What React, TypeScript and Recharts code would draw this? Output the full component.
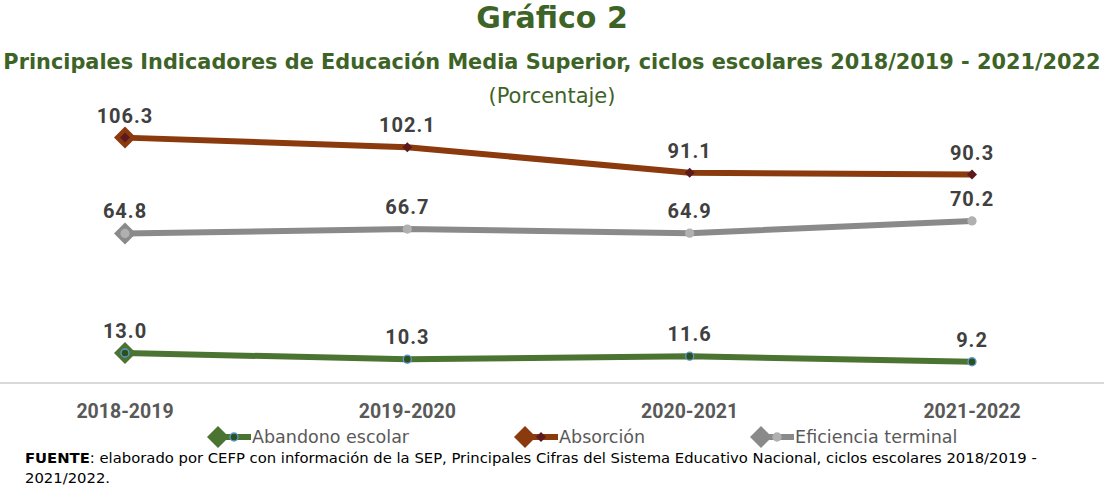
import { LineChart, Line, XAxis, YAxis, LabelList, Legend } from "recharts";

const ciclos = ["2018-2019", "2019-2020", "2020-2021", "2021-2022"];
const abandono = [13.0, 10.3, 11.6, 9.2];
const absorcion = [106.3, 102.1, 91.1, 90.3];
const eficiencia = [64.8, 66.7, 64.9, 70.2];

const series = [
  { key: "abandono", name: "Abandono escolar", color: "#4b7331", dot: "circle", inner: "#2f4f1e", ring: "#5b9bd5" },
  { key: "absorcion", name: "Absorción", color: "#8b3a0e", dot: "diamond", inner: "#5a1a1e", ring: "#5a1a1e" },
  { key: "eficiencia", name: "Eficiencia terminal", color: "#8a8a8a", dot: "circle", inner: "#b0b0b0", ring: "#b0b0b0" },
];

const data = ciclos.map((c, i) => ({
  ciclo: c,
  abandono: abandono[i],
  absorcion: absorcion[i],
  eficiencia: eficiencia[i],
}));

const GREEN = "#3e6327";
const TXT = "'DejaVu Sans', sans-serif";

function Marker({ x, y, s }: { x: number; y: number; s: (typeof series)[number] }) {
  if (s.dot === "diamond")
    return <path d={`M${x - 5},${y} L${x},${y - 5} L${x + 5},${y} L${x},${y + 5} Z`} fill={s.inner} />;
  return <circle cx={x} cy={y} r={4} fill={s.inner} stroke={s.ring} strokeWidth={1.3} />;
}

function Diamond({ x, y, color }: { x: number; y: number; color: string }) {
  const h = 11;
  return <path d={`M${x - h},${y} L${x},${y - h} L${x + h},${y} L${x},${y + h} Z`} fill={color} />;
}

function makeDot(s: (typeof series)[number]) {
  return (p: any) => {
    const { cx, cy, index } = p;
    return (
      <g key={`${s.key}-${index}`}>
        {index === 0 && <Diamond x={cx} y={cy} color={s.color} />}
        <Marker x={cx} y={cy} s={s} />
      </g>
    );
  };
}

function LegendContent() {
  return (
    <div style={{ display: "flex", alignItems: "center", fontFamily: TXT, fontSize: 17.5, color: "#595959", height: 24 }}>
      {series.map((s, i) => (
        <div key={s.key} style={{ display: "flex", alignItems: "center", marginLeft: i === 0 ? 0 : 103, whiteSpace: "nowrap" }}>
          <svg width={46} height={24}>
            <line x1={8} y1={12} x2={46} y2={12} stroke={s.color} strokeWidth={6} />
            <Diamond x={13} y={12} color={s.color} />
            <Marker x={29} y={12} s={s} />
          </svg>
          <span style={{ marginLeft: 1 }}>{s.name}</span>
        </div>
      ))}
    </div>
  );
}

export default function App() {
  return (
    <div style={{ position: "absolute", left: 0, top: 0, width: 1104, height: 487, background: "#fff", overflow: "hidden" }}>
      <div style={{ position: "absolute", top: 0, width: 1104, textAlign: "center", fontFamily: TXT, fontWeight: "bold", fontSize: 30, color: GREEN, lineHeight: "36px" }}>
        Gráfico 2
      </div>
      <div style={{ position: "absolute", top: 49, left: 0, width: 1104, textAlign: "center", fontFamily: TXT, fontWeight: "bold", fontSize: 20.85, color: GREEN, whiteSpace: "nowrap", lineHeight: "26px" }}>
        Principales Indicadores de Educación Media Superior, ciclos escolares 2018/2019 - 2021/2022
      </div>
      <div style={{ position: "absolute", top: 82, left: 0, width: 1104, textAlign: "center", fontFamily: TXT, fontSize: 21, color: GREEN, lineHeight: "28px" }}>
        (Porcentaje)
      </div>
      <div style={{ position: "absolute", top: 0, left: 0 }}>
        <LineChart width={1104} height={450} data={data} margin={{ top: 106, right: 0, left: 0, bottom: 0 }}>
          <XAxis
            dataKey="ciclo"
            height={43}
            padding={{ left: 125, right: 132 }}
            stroke="#d9d9d9"
            strokeWidth={2}
            tickLine={false}
            tickSize={6}
            tickMargin={15}
            tick={{ fill: "#595959", fontFamily: "Roboto", fontWeight: "bold", fontSize: 19.5 }}
          />
          <YAxis hide domain={[0, 120]} />
          <Legend
            verticalAlign="bottom"
            content={LegendContent}
            wrapperStyle={{ position: "absolute", left: 205, top: 425, width: "auto", bottom: "auto", height: 24 }}
          />
          {series.map((s) => (
            <Line
              key={s.key}
              dataKey={s.key}
              name={s.name}
              stroke={s.color}
              strokeWidth={6}
              dot={makeDot(s)}
              activeDot={false}
              isAnimationActive={false}
            >
              <LabelList
                dataKey={s.key}
                position="top"
                offset={15}
                formatter={(v: any) => Number(v).toFixed(1)}
                style={{ fill: "#404040", fontFamily: "Roboto", fontWeight: "bold", fontSize: 20, letterSpacing: 1 }}
              />
            </Line>
          ))}
        </LineChart>
      </div>
      <div style={{ position: "absolute", top: 448, left: 25, width: 1070, fontFamily: TXT, fontSize: 14.8, color: "#000", lineHeight: "20px", whiteSpace: "nowrap" }}>
        <b>FUENTE</b>: elaborado por CEFP con información de la SEP, Principales Cifras del Sistema Educativo Nacional, ciclos escolares 2018/2019 -
        <br />
        2021/2022.
      </div>
    </div>
  );
}
